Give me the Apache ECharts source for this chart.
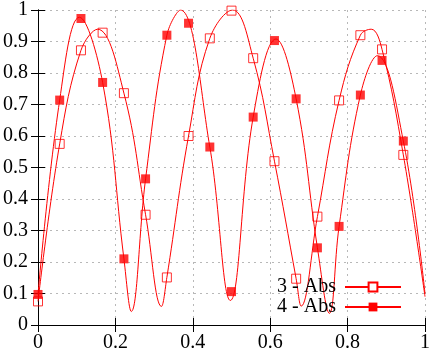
<!DOCTYPE html>
<html>
<head>
<meta charset="utf-8">
<script src="https://cdn.jsdelivr.net/npm/echarts@6/dist/echarts.min.js"></script>
<style>
  html, body { margin: 0; padding: 0; background: #fff; }
  #chart { width: 433px; height: 353px; }
</style>
</head>
<body>
<div id="chart"></div>
<script>
// sample positions of the markers
const xMarks = [0, 0.056, 0.111, 0.167, 0.222, 0.278, 0.333, 0.389, 0.444,
                0.5, 0.556, 0.611, 0.667, 0.722, 0.778, 0.833, 0.889, 0.944];

// marker values
const abs3 = [0.075, 0.575, 0.872, 0.928, 0.736, 0.35, 0.151, 0.6, 0.91,
              0.998, 0.847, 0.52, 0.147, 0.344, 0.713, 0.92, 0.875, 0.54];
const abs4 = [0.097, 0.714, 0.973, 0.77, 0.21, 0.464, 0.92, 0.958, 0.565,
              0.106, 0.66, 0.903, 0.718, 0.245, 0.313, 0.73, 0.84, 0.584];

// points along the fitted curves (minima listed twice to keep the V sharp)
const curve3 = [
    [0, 0.075], [0.056, 0.575], [0.111, 0.872], [0.154, 0.939], [0.222, 0.736],
    [0.278, 0.35], [0.319, 0.059], [0.319, 0.059], [0.333, 0.151], [0.389, 0.6],
    [0.444, 0.91], [0.503, 1.0], [0.556, 0.847], [0.611, 0.52], [0.667, 0.147],
    [0.68, 0.06], [0.68, 0.06], [0.722, 0.344], [0.778, 0.713], [0.833, 0.92],
    [0.861, 0.939], [0.889, 0.875], [0.944, 0.54], [1, 0.09]
];
const curve4 = [
    [0, 0.097], [0.056, 0.714], [0.107, 0.977], [0.167, 0.77], [0.222, 0.21],
    [0.241, 0.043], [0.241, 0.043], [0.278, 0.464], [0.333, 0.92], [0.368, 1.0],
    [0.444, 0.565], [0.497, 0.078], [0.497, 0.078], [0.556, 0.66], [0.615, 0.908],
    [0.667, 0.718], [0.722, 0.245], [0.753, 0.037], [0.753, 0.037], [0.778, 0.313],
    [0.833, 0.73], [0.877, 0.855], [0.944, 0.584], [1, 0.1]
];

const names = ["3 - Abs", "4 - Abs"];

const RED = "#ff0000";
const FONT = "Liberation Serif";

const chart = echarts.init(document.getElementById("chart"));

const gridLine = { show: true, lineStyle: { color: "#b8b8b8", type: [2, 4], width: 1 } };
const tick = { show: true, inside: true, length: 7, lineStyle: { color: "#000" } };
const border = { show: true, lineStyle: { color: "#000", width: 1 } };
const label = { color: "#000", fontFamily: FONT, fontSize: 20 };

chart.setOption({
    animation: false,
    backgroundColor: "#fff",

    grid: { left: 37, right: 7, top: 8, bottom: 28 },

    xAxis: [
        {
            type: "value", min: 0, max: 1, interval: 0.2, position: "bottom",
            axisLine: border, axisTick: tick, splitLine: gridLine,
            axisLabel: Object.assign({ margin: 8 }, label)
        },
        {
            type: "value", min: 0, max: 1, interval: 0.2, position: "top",
            axisLine: border, axisTick: tick, splitLine: { show: false },
            axisLabel: { show: false }
        }
    ],

    yAxis: [
        {
            type: "value", min: 0, max: 1, interval: 0.1, position: "left",
            axisLine: border, axisTick: tick, splitLine: gridLine,
            axisLabel: Object.assign({ margin: 10 }, label)
        },
        {
            type: "value", min: 0, max: 1, interval: 0.1, position: "right",
            axisLine: border, axisTick: tick, splitLine: { show: false },
            axisLabel: { show: false }
        }
    ],

    legend: {
        data: names,
        orient: "vertical",
        align: "right",
        right: 31,
        top: 277,
        padding: 0,
        itemWidth: 56,
        itemHeight: 11,
        itemGap: 0,
        textStyle: {
            color: "#000", fontFamily: FONT, fontSize: 20, lineHeight: 20,
            padding: [0, 4, 0, 0]
        }
    },

    series: [
        {
            name: names[0], type: "line", data: curve3, smooth: 0.4,
            symbol: "emptyRect", showSymbol: false,
            lineStyle: { color: RED, width: 1 }, itemStyle: { color: RED },
            z: 2
        },
        {
            name: names[1], type: "line", data: curve4, smooth: 0.4,
            symbol: "rect", showSymbol: false,
            lineStyle: { color: RED, width: 1 }, itemStyle: { color: RED },
            z: 2
        },
        {
            name: names[0] + " pts", type: "scatter",
            data: xMarks.map((x, i) => [x, abs3[i]]),
            symbol: "rect", symbolSize: 9,
            itemStyle: { color: "rgba(0,0,0,0)", borderColor: RED, borderWidth: 1 },
            z: 3
        },
        {
            name: names[1] + " pts", type: "scatter",
            data: xMarks.map((x, i) => [x, abs4[i]]),
            symbol: "rect", symbolSize: 9,
            itemStyle: { color: RED },
            z: 3
        }
    ]
});
</script>
</body>
</html>
